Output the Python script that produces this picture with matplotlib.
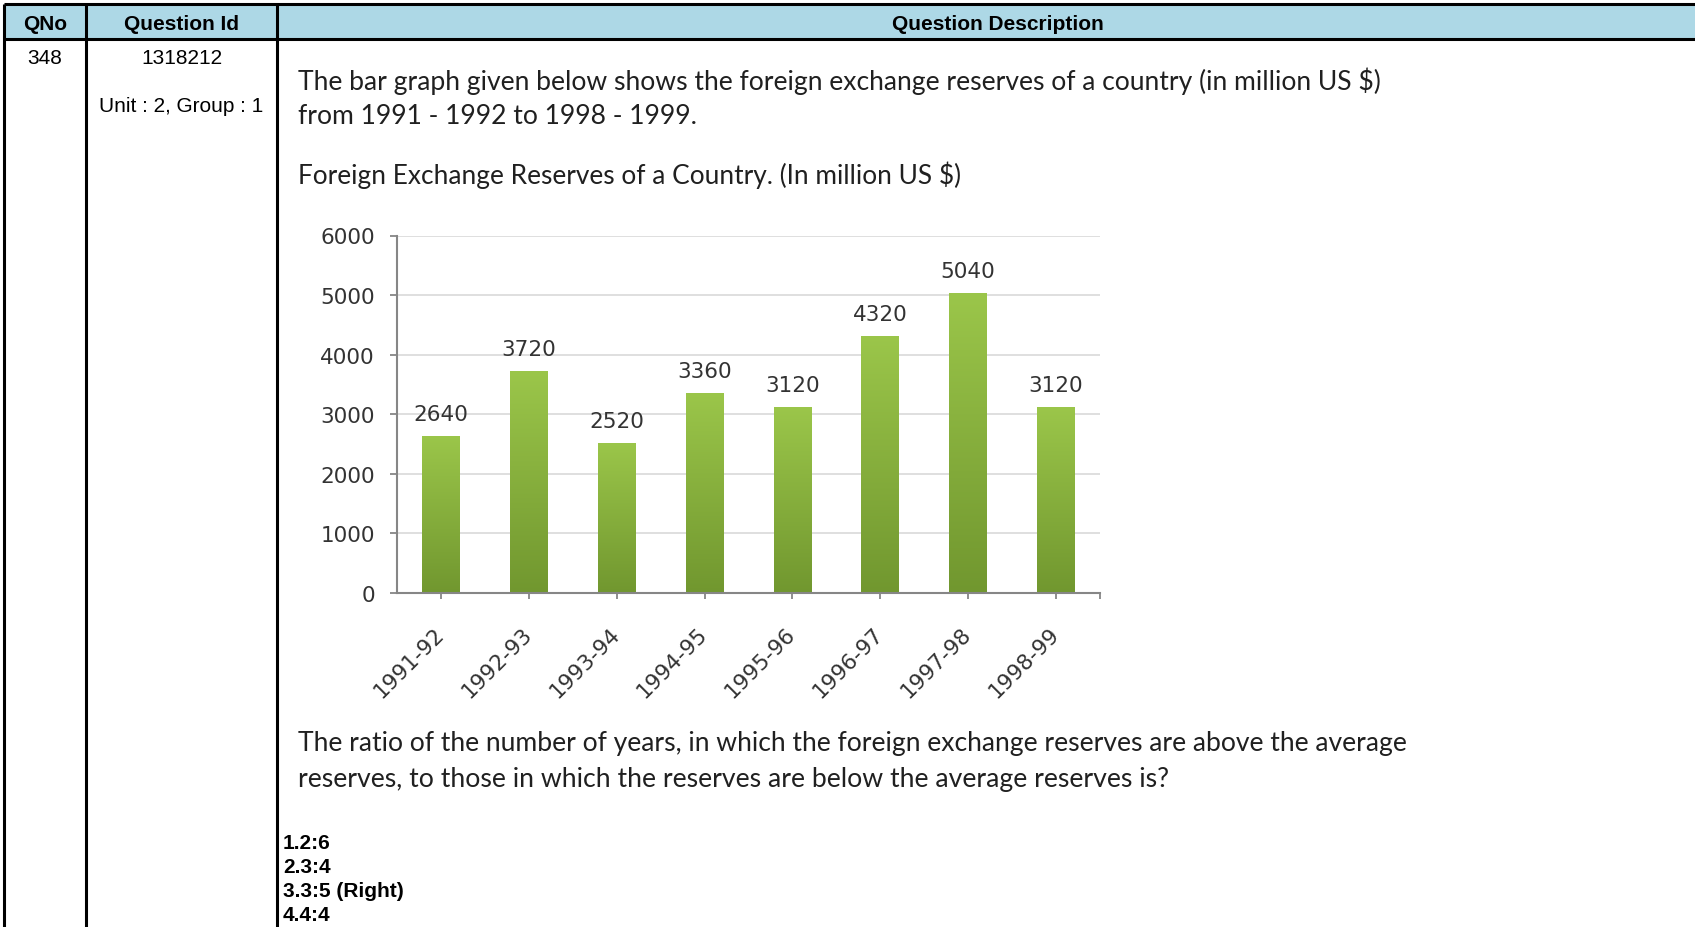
import matplotlib
matplotlib.use('Agg')
import matplotlib.pyplot as plt
import matplotlib.transforms as mtransforms
from matplotlib.colors import LinearSegmentedColormap
from matplotlib.patches import Rectangle
import numpy as np

# Datos de la grafica
anios = ['1991-92', '1992-93', '1993-94', '1994-95', '1995-96', '1996-97', '1997-98', '1998-99']
reservas = [2640, 3720, 2520, 3360, 3120, 4320, 5040, 3120]
marcas_y = [0, 1000, 2000, 3000, 4000, 5000, 6000]

# Textos de la tabla
encabezados = ['QNo', 'Question Id', 'Question Description']
numero_pregunta = '348'
id_pregunta = '1318212'
grupo = 'Unit : 2, Group : 1'
enunciado = ['The bar graph given below shows the foreign exchange reserves of a country (in million US $)',
             'from 1991 - 1992 to 1998 - 1999.']
titulo = 'Foreign Exchange Reserves of a Country. (In million US $)'
pregunta = ['The ratio of the number of years, in which the foreign exchange reserves are above the average',
            'reserves, to those in which the reserves are below the average reserves is?']
opciones = ['1.2:6', '2.3:4', '3.3:5 (Right)', '4.4:4']

W, H = 1695, 928
fig = plt.figure(figsize=(W / 100, H / 100), dpi=100)
fig.patch.set_facecolor('white')

# Capa de fondo en pixeles para la tabla
fondo = fig.add_axes([0, 0, 1, 1])
fondo.set_xlim(0, W)
fondo.set_ylim(H, 0)
fondo.axis('off')

fondo.add_patch(Rectangle((4, 5), W - 4, 35, facecolor='#add8e6', edgecolor='none'))
for y in (5, 40):
    fondo.plot([4, W], [y, y], color='black', lw=2.2, solid_capstyle='butt')
for x in (4, 85.5, 276.5):
    fondo.plot([x, x], [5, H], color='black', lw=2.2, solid_capstyle='butt')

arial = 'Liberation Sans'
for texto, xc in zip(encabezados, [45, 182, 998]):
    fondo.text(xc, 24, texto, ha='center', va='center', family=arial, weight='bold', fontsize=15)
fondo.text(45, 58, numero_pregunta, ha='center', va='center', family=arial, fontsize=15)
fondo.text(182, 58, id_pregunta, ha='center', va='center', family=arial, fontsize=15)
fondo.text(181, 107, grupo, ha='center', va='center', family=arial, fontsize=15)

renderer = fig.canvas.get_renderer()

def ajustar_ancho(t, ancho):
    w = t.get_window_extent(renderer).width
    t.set_fontsize(t.get_fontsize() * ancho / w)
    return t.get_fontsize()

color_texto = '#202020'
t = fondo.text(298, 81, enunciado[0], ha='left', va='center', family='Lato', fontsize=17, color=color_texto)
tam = ajustar_ancho(t, 1081)
fondo.text(298, 117, enunciado[1], ha='left', va='center', family='Lato', fontsize=tam, color=color_texto)

lineas = [(titulo, 175, 661), (pregunta[0], 744, 1110), (pregunta[1], 780, 869)]
for texto, yc, ancho in lineas:
    t = fondo.text(298, yc, texto, ha='left', va='center', family='Lato', fontsize=17, color=color_texto)
    ajustar_ancho(t, ancho)

for i, op in enumerate(opciones):
    fondo.text(283, 844 + i * 24, op, ha='left', va='center', family=arial, weight='bold', fontsize=15)

# Grafica de barras
ax = fig.add_axes([397 / W, 1 - 594 / H, (1100 - 397) / W, (594 - 236.5) / H])
ax.set_facecolor('none')

x = np.arange(len(anios))
barras = ax.bar(x, reservas, width=0.43, color='none', zorder=2)
verde = LinearSegmentedColormap.from_list('verde', ['#71972f', '#9bc64a'])
gradiente = np.linspace(0, 1, 256).reshape(-1, 1)
for b in barras:
    x0, y0, w, h = b.get_x(), b.get_y(), b.get_width(), b.get_height()
    im = ax.imshow(gradiente, extent=[x0, x0 + w, y0, y0 + h], cmap=verde, origin='lower',
                   aspect='auto', zorder=2, interpolation='bilinear')
    im.set_clip_path(b)

ax.set_xlim(-0.5, len(anios) - 0.5)
ax.set_ylim(0, 6000)

gris = '#868686'
texto_graf = '#333333'
tam_graf = 15.5
for s in ('top', 'right'):
    ax.spines[s].set_visible(False)
for s in ('left', 'bottom'):
    ax.spines[s].set_color(gris)
    ax.spines[s].set_linewidth(1.5)

ax.set_yticks(marcas_y)
ax.set_yticklabels([str(v) for v in marcas_y])
ax.grid(axis='y', color='#dcdcdc', lw=1.3, zorder=0)
ax.set_axisbelow(True)
ax.tick_params(axis='y', direction='out', length=5, width=1.3, color=gris, pad=11,
               labelsize=tam_graf, labelcolor=texto_graf)

ax.set_xticks(x)
ax.set_xticklabels(anios, rotation=45, ha='right', va='top')
ax.set_xticks([len(anios) - 0.5], minor=True)
ax.tick_params(axis='x', which='both', direction='out', length=4.5, width=1.3, color=gris, pad=17,
               labelsize=tam_graf, labelcolor=texto_graf)
desplazar = mtransforms.ScaledTranslation(7 / 100, 0, fig.dpi_scale_trans)
for lab in ax.get_xticklabels():
    lab.set_transform(lab.get_transform() + desplazar)

for xi, v in zip(x, reservas):
    ax.annotate(str(v), (xi, v), xytext=(0, 11.5), textcoords='offset points',
                ha='center', va='baseline', fontsize=tam_graf, color=texto_graf)

fig.savefig('out.png', dpi=100)
